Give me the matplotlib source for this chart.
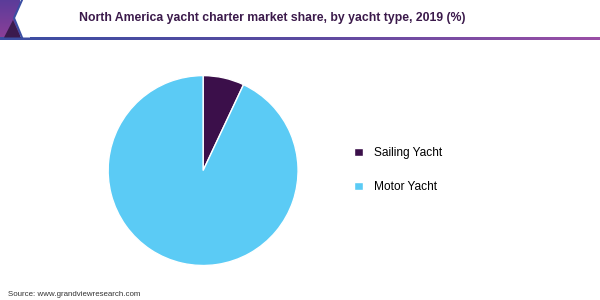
import matplotlib
matplotlib.use("Agg")
import matplotlib.pyplot as plt
import numpy as np
from matplotlib.patches import Polygon
from matplotlib.colors import LinearSegmentedColormap

categories = ["Sailing Yacht", "Motor Yacht"]
shares = [7, 93]
colors = ["#3b0f4a", "#5bcbf5"]
title = "North America yacht charter market share, by yacht type, 2019 (%)"
source = "Source: www.grandviewresearch.com"

plt.rcParams['font.family'] = ['Liberation Sans', 'DejaVu Sans']
fig = plt.figure(figsize=(6, 3), dpi=100)

# header decoration
deco = fig.add_axes([0, 0, 1, 1])
deco.axis("off")
grad = np.linspace(0, 1, 256).reshape(1, -1)
cmap = LinearSegmentedColormap.from_list("hd", ["#3b4ea3", "#5a4aa0", "#9a4fa6"])
deco.imshow(grad, extent=[0, 600, 40, 37.5], aspect="auto", cmap=cmap, zorder=1)
cmap2 = LinearSegmentedColormap.from_list("lb", ["#5a3c9a", "#8a3f98"])
deco.imshow(np.linspace(0, 1, 64).reshape(-1, 1), extent=[0, 20, 37.5, 0], aspect="auto", cmap=cmap2, zorder=1)
deco.add_patch(Polygon([[22, 0], [14, 18], [22, 37.5], [30, 37.5], [30, 0]], closed=True,
                       facecolor="white", edgecolor="none", zorder=2))
deco.plot([22, 14, 22], [0, 18, 37.5], color="#3b4ea3", lw=1.5, zorder=3)
deco.add_patch(Polygon([[4, 37.5], [13, 20], [21, 37.5]], closed=True,
                       facecolor="#3b1a4e", edgecolor="none", zorder=2))
deco.set_xlim(0, 600)
deco.set_ylim(300, 0)

fig.text(0.453, 0.94, title, ha="center", va="center", fontsize=8.8,
         fontweight="bold", color="#3b1a4b")
fig.text(0.014, 0.02, source, ha="left", va="center", fontsize=5.7, color="#333333")

ax = fig.add_axes([0.18, 0.115, 0.317, 0.633])
wedges, _ = ax.pie(shares, colors=colors, startangle=90, counterclock=False,
                   wedgeprops=dict(edgecolor="white", linewidth=1))
ax.set_xlim(-1, 1)
ax.set_ylim(-1, 1)
ax.set_aspect("equal")

ax.legend(wedges, categories, loc="center left", bbox_to_anchor=(0.572, 0.433),
          bbox_transform=fig.transFigure, frameon=False, fontsize=8.6,
          handlelength=0.75, handleheight=0.75, labelspacing=1.85, handletextpad=0.9)

fig.savefig("out.png", dpi=100)
